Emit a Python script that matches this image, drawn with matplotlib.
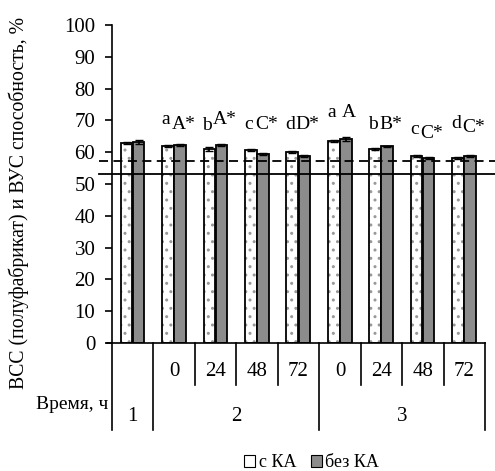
import numpy as np
import matplotlib.pyplot as plt

plt.rcParams['font.family'] = ['Liberation Serif', 'DejaVu Serif']

# данные
s_ka = [63.0, 62.0, 61.0, 60.6, 60.0, 63.5, 61.0, 58.7, 58.2]
bez_ka = [63.2, 62.3, 62.3, 59.4, 58.8, 64.2, 61.8, 58.3, 58.7]
err_s = [0.3, 0.3, 0.6, 0.3, 0.3, 0.4, 0.3, 0.3, 0.3]
err_b = [0.5, 0.4, 0.3, 0.3, 0.3, 0.6, 0.3, 0.3, 0.3]
low_lbl = ['', 'a', 'b', 'c', 'd', 'a', 'b', 'c', 'd']
low_y = [0, 70.2, 68.5, 68.8, 68.8, 72.5, 68.8, 67.0, 69.0]
up_lbl = ['', 'A*', 'A*', 'C*', 'D*', 'A', 'B*', 'C*', 'C*']
up_y = [0, 68.6, 70.3, 68.8, 68.8, 72.5, 68.8, 65.8, 67.8]
hours = ['', '0', '24', '48', '72', '0', '24', '48', '72']
variants = ['1', '2', '3']
line_dash = 57.2
line_solid = 53.2

fig = plt.figure(figsize=(4.95, 4.71), dpi=100)
ax = fig.add_axes([0.2263, 0.2718, 0.7535, 0.6751])

x = np.arange(len(s_ka)) + 0.5
w = 0.28
# белые столбцы с точками
ax.bar(x - 0.15, s_ka, w, color='white', edgecolor='#999999', hatch='..', lw=0)
ax.bar(x - 0.15, s_ka, w, fill=False, edgecolor='black', lw=1.3)
ax.bar(x + 0.14, bez_ka, w, color='#8c8c8c', edgecolor='black', lw=1.3)
ax.errorbar(x - 0.15, s_ka, yerr=err_s, fmt='none', ecolor='black', capsize=3, lw=1.2)
ax.errorbar(x + 0.14, bez_ka, yerr=err_b, fmt='none', ecolor='black', capsize=3, lw=1.2)

ax.axhline(line_dash, xmin=-0.035, xmax=1.05, color='black', ls=(0, (5, 3)), lw=1.3, clip_on=False)
ax.axhline(line_solid, xmin=-0.035, xmax=1.05, color='black', lw=1.3, clip_on=False)

for i in range(len(x)):
    if low_lbl[i]:
        ax.text(x[i] - 0.2, low_y[i], low_lbl[i], ha='center', va='center', fontsize=14)
        ax.text(x[i] + 0.22, up_y[i], up_lbl[i], ha='center', va='center', fontsize=14)

ax.set_xlim(0, 9)
ax.set_ylim(0, 100)
ax.set_yticks(range(0, 101, 10))
ax.tick_params(axis='y', direction='out', length=5, width=1.2, labelsize=15, pad=7)
ax.set_xticks([])
for s in ['top', 'right', 'bottom']:
    ax.spines[s].set_visible(False)
ax.spines['left'].set_linewidth(1.2)

# таблица категорий под осью
tr = ax.get_xaxis_transform()
ax.plot([-0.12, 9], [0, 0], color='black', lw=1.2, transform=tr, clip_on=False)
for b in [0, 1, 5, 9]:
    ax.plot([b, b], [0, -0.274], color='black', lw=1.2, transform=tr, clip_on=False)
for b in [2, 3, 4, 6, 7, 8]:
    ax.plot([b, b], [0, -0.132], color='black', lw=1.2, transform=tr, clip_on=False)
for i, h in enumerate(hours):
    ax.text(x[i], -0.09, h, transform=tr, ha='center', va='center', fontsize=15)
for xc, v in zip([0.5, 3.0, 7.0], variants):
    ax.text(xc, -0.23, v, transform=tr, ha='center', va='center', fontsize=15)
ax.text(-0.1, -0.195, 'Время, ч', transform=tr, ha='right', va='center', fontsize=14)

fig.text(0.038, 0.568, 'ВСС (полуфабрикат) и ВУС способность, %', rotation=90,
         ha='center', va='center', fontsize=14.2)

# легенда
ax.bar([0], [0], color='white', edgecolor='black', lw=0.8, label='с КА')
ax.bar([0], [0], color='#8c8c8c', edgecolor='black', lw=0.8, label='без КА')
h, l = ax.get_legend_handles_labels()
fig.legend(h[-2:], l[-2:], loc='center', bbox_to_anchor=(0.63, 0.017), ncol=2, frameon=False,
           fontsize=13, handlelength=0.6, handleheight=0.6, handletextpad=0.2, columnspacing=0.8)

fig.savefig('out.png', dpi=100)
